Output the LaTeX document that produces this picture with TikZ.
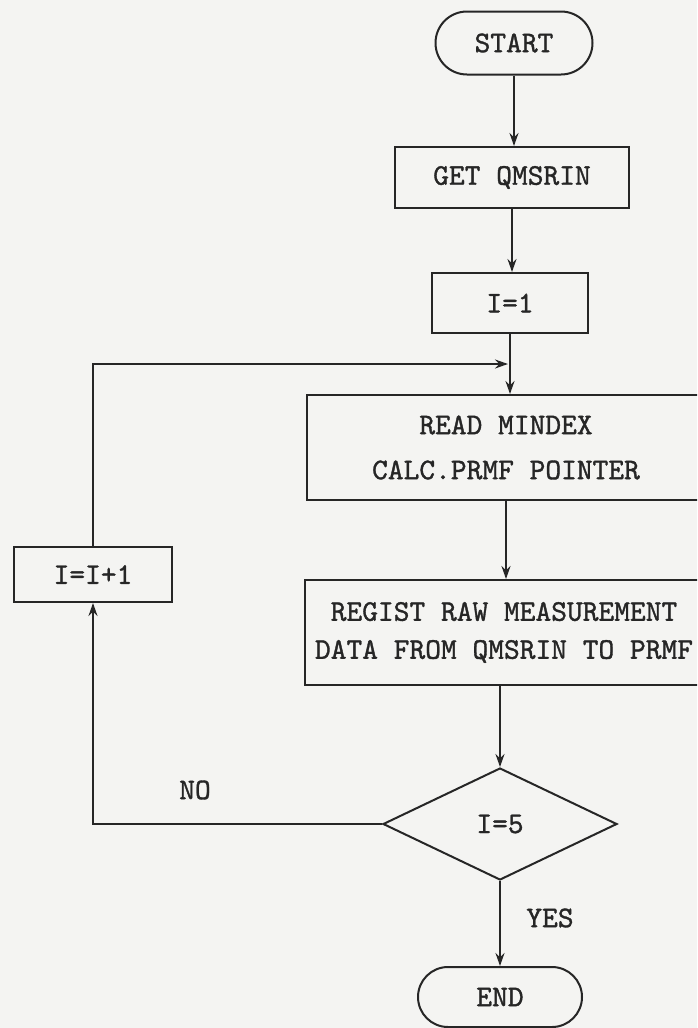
\documentclass[tikz,border=0pt]{standalone}
\usepackage{fontspec}
\usepackage{xcolor}
\usepackage{tikz}
\usetikzlibrary{calc, positioning, shapes.geometric, shapes.misc, arrows.meta}
\definecolor{paper}{HTML}{F4F4F2}
\definecolor{ink}{HTML}{262626}
\newfontfamily\typerfont{lmmono10-regular.otf}[FakeBold=1.2]
\newcommand{\fsBox}{\fontsize{30}{36}\selectfont\typerfont}

\begin{document}
\begin{tikzpicture}[x=1pt, y=1pt, line width=2pt, color=ink,
  every node/.style={font=\fsBox, text=ink},
  procbox/.style={draw, rectangle, inner sep=0pt, align=center},
  termbox/.style={draw, rounded rectangle, inner sep=0pt},
  testbox/.style={draw, diamond, inner sep=0pt},
  flow/.style={-{Stealth[length=13pt, width=9pt]}}]
  \useasboundingbox (0,0) rectangle (697,-1028);
  \clip (0,0) rectangle (697,-1028);
  \fill[paper] (0,0) rectangle (697,-1028);

  % main column
  \node[termbox, minimum width=157pt, minimum height=63pt] (start) at (514,-43) {START};
  \node[procbox, minimum width=234pt, minimum height=61pt] (get) at (512,-177.5) {GET QMSRIN};
  \node[procbox, minimum width=156pt, minimum height=60pt] (init) at (510,-303) {I=1};
  \node[procbox, minimum width=398pt, minimum height=105pt] (read) at (506,-447.5) {READ MINDEX\\[9pt]CALC.PRMF POINTER};
  \node[procbox, minimum width=398pt, minimum height=105pt] (regist) at (504,-632.5) {REGIST RAW MEASUREMENT\\[2pt]DATA FROM QMSRIN TO PRMF};
  \node[testbox, minimum width=234pt, minimum height=112pt] (test) at (500,-824) {I=5};
  \node[termbox, minimum width=164pt, minimum height=60pt] (stop) at (500,-997) {END};

  % loop back
  \node[procbox, minimum width=158pt, minimum height=55pt] (incr) at (93,-574.5) {I=I+1};
  \node (no) at (195,-790) {NO};
  \node (yes) at (550,-918) {YES};
  \coordinate (join) at ($(init.south)!0.5!(read.north)$);

  \draw[flow] (start.south) -- (start.south |- get.north);
  \draw[flow] (get.south) -- (get.south |- init.north);
  \draw[flow] (init.south) -- (init.south |- read.north);
  \draw[flow] (incr.north) |- (join);
  \draw[flow] (read.south) -- (read.south |- regist.north);
  \draw[flow] (test.north |- regist.south) -- (test.north);
  \draw[flow] (test.west) -| (incr.south);
  \draw[flow] (test.south) -- (stop.north);
\end{tikzpicture}
\end{document}
